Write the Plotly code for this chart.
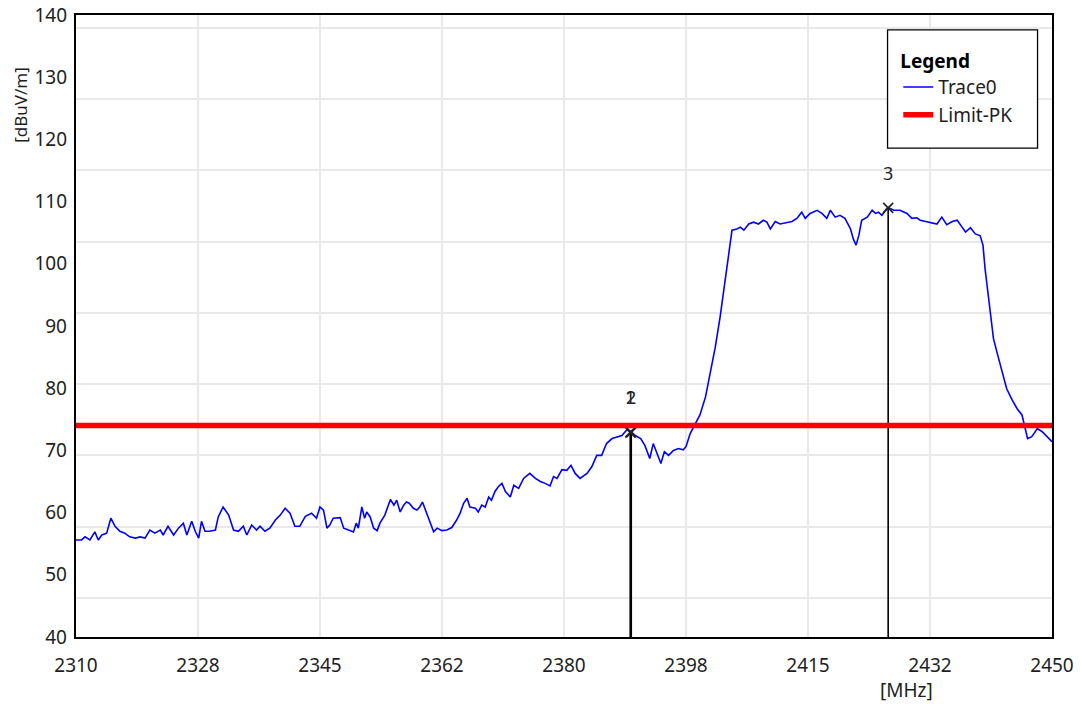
import plotly.graph_objects as go

# ---------------- data ----------------
freq_mhz = [
    2310.0, 2310.8, 2311.3, 2312.0, 2312.7, 2313.2, 2313.7, 2314.4, 2315.0, 2315.6,
    2316.3, 2317.0, 2317.7, 2318.5, 2319.2, 2319.9, 2320.6, 2321.3, 2322.1, 2322.5,
    2323.2, 2324.0, 2324.7, 2325.4, 2325.9, 2326.6, 2327.1, 2327.6, 2328.0, 2328.5,
    2329.2, 2330.0, 2330.4, 2331.1, 2331.9, 2332.6, 2333.3, 2334.0, 2334.5, 2335.2,
    2335.9, 2336.4, 2337.1, 2337.8, 2338.6, 2339.3, 2340.0, 2340.7, 2341.4, 2342.1,
    2342.9, 2343.8, 2344.5,
    2345.0, 2345.5, 2346.0, 2346.4, 2346.9, 2347.9, 2348.4, 2349.1, 2349.8, 2350.2,
    2350.5, 2351.0, 2351.4, 2351.7, 2352.2, 2352.7, 2353.2, 2353.6, 2354.3, 2355.1,
    2355.6, 2356.0, 2356.5, 2357.0, 2357.4, 2357.8, 2358.4, 2358.9, 2359.3, 2359.7,
    2360.2, 2360.7, 2361.3, 2361.8, 2362.5, 2363.2, 2363.9, 2364.6, 2365.1, 2365.6,
    2366.1, 2366.5, 2367.3, 2367.7, 2368.2, 2368.7, 2369.2, 2369.6, 2370.1, 2370.6,
    2371.1, 2371.6, 2372.3, 2372.8, 2373.5, 2374.2, 2375.1, 2375.9, 2376.6, 2377.3,
    2378.0, 2378.5, 2379.0, 2379.7, 2380.4, 2381.0, 2381.6,
    2382.3, 2383.3, 2384.0, 2384.7, 2385.4, 2386.1, 2386.9, 2387.6, 2388.3, 2389.0,
    2389.6, 2390.2, 2391.0, 2391.6, 2392.3, 2392.8, 2393.4, 2393.9, 2394.4, 2395.0,
    2395.7, 2396.4, 2397.1, 2397.5, 2398.1, 2398.8, 2399.5, 2400.3, 2401.0, 2401.7,
    2402.4, 2403.1,
    2403.4, 2403.8, 2404.1, 2404.8, 2405.3, 2405.8, 2406.5, 2407.2, 2407.9, 2408.6,
    2409.1, 2409.6, 2410.3, 2411.0, 2412.0, 2412.7, 2413.4, 2414.1, 2414.6, 2415.3,
    2416.3, 2417.0, 2417.7, 2418.2, 2418.9, 2419.6, 2420.3, 2421.1, 2421.5, 2421.9,
    2422.3, 2422.7, 2423.5, 2424.2, 2424.7, 2425.1, 2425.6, 2426.3, 2426.6, 2427.3,
    2428.2, 2429.2, 2429.9, 2430.6, 2431.1, 2432.1, 2433.5, 2434.2, 2434.9, 2435.7,
    2436.4, 2437.1, 2437.6, 2438.3, 2439.0, 2439.7, 2440.1, 2440.4, 2440.8, 2441.2,
    2441.6, 2442.1, 2442.8, 2443.5, 2444.3, 2445.0, 2445.7, 2446.0, 2446.5, 2447.1,
    2447.9, 2448.6, 2449.3, 2450.0,
]
level_dbuv = [
    55.6, 55.6, 56.1, 55.6, 56.9, 55.6, 56.4, 56.7, 59.1, 57.8,
    57.0, 56.7, 56.1, 55.9, 56.1, 55.9, 57.2, 56.7, 57.2, 56.4,
    57.8, 56.4, 57.5, 58.3, 56.4, 58.6, 57.0, 55.9, 58.6, 57.0,
    57.0, 57.2, 59.3, 60.9, 59.6, 57.2, 57.0, 57.8, 56.4, 58.0,
    57.2, 57.8, 57.0, 57.5, 58.8, 59.6, 60.7, 59.9, 57.8, 57.8,
    59.4, 59.9, 59.1,
    60.9, 60.4, 57.5, 58.0, 59.1, 59.2, 57.5, 57.2, 56.9, 58.3,
    57.5, 60.9, 59.1, 60.1, 59.3, 57.5, 57.1, 58.3, 59.6, 62.1,
    61.2, 62.0, 60.1, 61.2, 61.7, 61.5, 60.7, 60.4, 60.9, 61.7,
    60.1, 58.5, 56.9, 57.5, 57.1, 57.2, 57.6, 58.8, 59.9, 61.5,
    62.3, 60.9, 60.7, 60.1, 61.2, 60.9, 62.5, 62.0, 63.4, 64.2,
    64.7, 63.4, 62.5, 64.4, 63.9, 65.5, 66.3, 65.5, 65.0, 64.7,
    64.3, 65.8, 65.5, 66.9, 66.8, 67.6, 66.3,
    65.5, 66.3, 67.4, 69.2, 69.2, 71.1, 71.9, 72.2, 72.4, 73.3,
    73.0, 72.4, 71.9, 70.8, 68.7, 71.1, 69.5, 67.9, 69.8, 69.2,
    70.0, 70.3, 70.1, 70.6, 72.7, 74.3, 75.7, 78.6, 82.4, 86.6,
    91.5, 97.3,
    99.8, 103.5, 105.4, 105.6, 105.9, 105.4, 106.4, 106.7, 106.4, 107.0,
    106.7, 105.6, 106.8, 106.4, 106.7, 106.8, 107.3, 108.3, 107.3, 108.1,
    108.6, 108.1, 107.3, 108.6, 107.5, 107.8, 107.3, 105.6, 104.0, 103.0,
    104.6, 107.0, 107.5, 108.6, 108.1, 108.3, 107.8, 108.9, 109.0, 108.6,
    108.6, 108.1, 107.3, 107.4, 107.0, 106.8, 106.4, 107.5, 106.3, 106.8,
    107.0, 105.9, 105.1, 105.8, 104.8, 104.5, 103.0, 99.2, 95.5, 91.2,
    88.0, 85.8, 82.9, 79.9, 78.1, 76.7, 75.7, 74.1, 71.9, 72.2,
    73.5, 73.0, 72.2, 71.4,
]

limit_freq = [2310, 2450]
limit_level = [74, 74]

marker_labels = ["1", "2", "3"]
marker_freq = [2389.5, 2389.65, 2426.5]
marker_level = [72.9, 72.9, 109.0]

x_tickvals = [2310, 2327.5, 2345, 2362.5, 2380, 2397.5, 2415, 2432.5, 2450]
x_ticktext = ["2310", "2328", "2345", "2362", "2380", "2398", "2415", "2432", "2450"]
y_tickvals = [40, 50, 60, 70, 80, 90, 100, 110, 120, 130, 140]
x_range = [2310, 2450]
y_range = [40, 140]
# horizontal grid of the reference is not aligned with the labels
grid_start = 46.27
grid_step = 11.46

FONT = "Noto Sans, Open Sans, DejaVu Sans, sans-serif"
TXT = "#1e1e1e"
FS = 19

fig = go.Figure()

fig.add_trace(go.Scatter(
    x=freq_mhz, y=level_dbuv, mode="lines", name="Trace0",
    line=dict(color="#0000ff", width=1.6), hoverinfo="x+y"))

for lab, f, lv in zip(marker_labels, marker_freq, marker_level):
    fig.add_trace(go.Scatter(
        x=[f, f], y=[y_range[0], lv], mode="lines", showlegend=False,
        line=dict(color="black", width=1.6), hoverinfo="skip"))

fig.add_trace(go.Scatter(
    x=marker_freq, y=marker_level, mode="markers", showlegend=False,
    marker=dict(symbol="x-thin", size=10, color="#222222",
                line=dict(color="#222222", width=1.7)),
    text=marker_labels, hoverinfo="text+x+y"))

fig.add_trace(go.Scatter(
    x=limit_freq, y=limit_level, mode="lines", name="Limit-PK",
    line=dict(color="#ff0000", width=5.5), yaxis="y2"))

annotations = []
for lab, f, lv in zip(marker_labels, marker_freq, marker_level):
    annotations.append(dict(
        x=f, y=lv, xref="x", yref="y", text=lab, showarrow=False,
        yshift=35, font=dict(family=FONT, size=18, color="#222222")))

annotations.append(dict(
    x=-0.0567, y=0.855, xref="paper", yref="paper", text="[dBuV/m]",
    textangle=-90, showarrow=False, xanchor="center", yanchor="middle",
    font=dict(family=FONT, size=17, color=TXT)))
annotations.append(dict(
    x=0.8507, y=-0.085, xref="paper", yref="paper", text="[MHz]",
    showarrow=False, xanchor="center", yanchor="middle",
    font=dict(family=FONT, size=FS, color=TXT)))

# legend frame (reference legend box is larger than plotly's auto box)
legend_box = dict(type="rect", xref="paper", yref="paper",
                  x0=0.8315, x1=0.9852, y0=0.786, y1=0.9762,
                  line=dict(color="black", width=1.3), fillcolor="white",
                  layer="above")

fig.update_layout(
    width=1081, height=705,
    margin=dict(l=76, r=29, t=14.5, b=68, autoexpand=False),
    paper_bgcolor="white", plot_bgcolor="white",
    font=dict(family=FONT, size=FS, color=TXT),
    showlegend=True,
    shapes=[legend_box],
    legend=dict(
        x=0.8425, y=0.9542, xanchor="left", yanchor="top",
        bgcolor="rgba(0,0,0,0)", borderwidth=0,
        title=dict(text="<b>Legend</b>", font=dict(family=FONT, size=FS, color="black")),
        font=dict(family=FONT, size=FS, color=TXT),
        itemwidth=30, tracegroupgap=0),
    xaxis=dict(
        range=x_range, tickmode="array", tickvals=x_tickvals, ticktext=x_ticktext,
        showgrid=True, gridcolor="#e9e9e9", gridwidth=1.5,
        showline=True, mirror=True, linecolor="black", linewidth=1.6,
        ticks="", ticklabelstandoff=10, zeroline=False, automargin=False,
        ticklabeloverflow="allow",
        tickfont=dict(family=FONT, size=FS, color=TXT)),
    yaxis=dict(
        range=y_range, tickmode="linear", tick0=grid_start, dtick=grid_step,
        showticklabels=False, showgrid=True, gridcolor="#e9e9e9", gridwidth=1.5,
        showline=True, mirror=True, linecolor="black", linewidth=1.6,
        ticks="", zeroline=False, automargin=False),
    yaxis2=dict(
        range=y_range, overlaying="y", side="left", tickmode="array",
        tickvals=y_tickvals, showgrid=False, showline=False, zeroline=False,
        ticks="", ticklabelstandoff=8, automargin=False,
        ticklabeloverflow="allow",
        tickfont=dict(family=FONT, size=FS, color=TXT)),
    annotations=annotations,
)

# remove the default 8px page margin so the figure fills the window exactly
fig.write_html("out.html",
               config={"displayModeBar": False},
               post_script="document.body.style.margin='0px';document.body.style.overflow='hidden';")
